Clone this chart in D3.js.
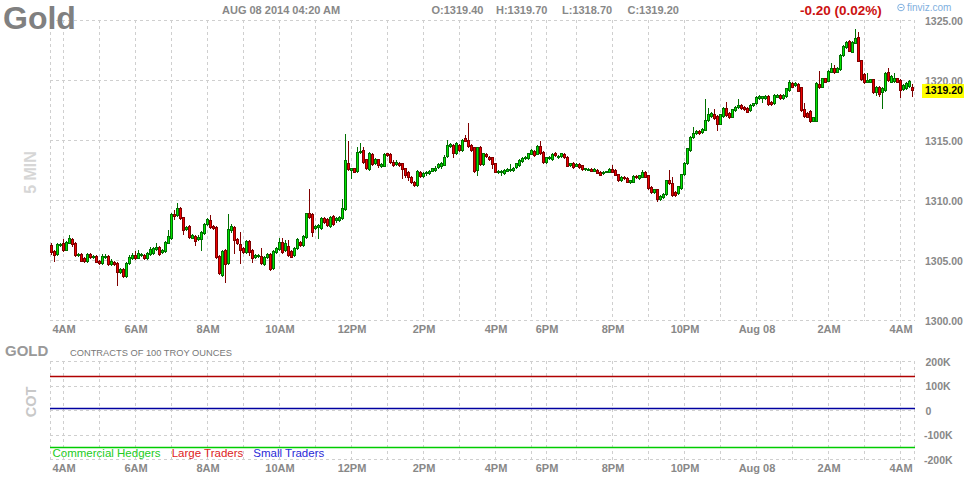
<!DOCTYPE html>
<html><head><meta charset="utf-8">
<script src="https://cdn.jsdelivr.net/npm/d3@7"></script>
<style>
body{margin:0;background:#fff}
svg{display:block}
text{font-family:Arial,"Liberation Sans",sans-serif}
</style>
</head><body>
<svg id="c" width="964" height="480"></svg>
<script>
const opens=[1306.25,1305.75,1305.47,1306.25,1306.39,1305.83,1306.44,1306.72,1306.44,1305.39,
1305.47,1305.19,1304.89,1305.47,1305.22,1305.33,1304.94,1304.75,1305.28,1305.33,
1304.67,1304.86,1304.78,1304.03,1304.22,1303.67,1304.72,1305.14,1305.42,1305.19,
1305.39,1305.42,1305.14,1305.47,1305.56,1305.89,1306.06,1305.64,1305.75,1306.44,
1306.81,1308.83,1308.75,1309.31,1308.56,1307.56,1307.83,1306.86,1307.03,1306.72,
1306.72,1307.28,1307.97,1308.33,1307.83,1307.78,1305.33,1303.75,1305.83,1304.78,
1307.5,1307.78,1306.72,1306.33,1305.97,1305.69,1306.58,1305.83,1305.25,1305.3,
1305.36,1304.67,1305.28,1305.47,1304.3,1305.69,1305.89,1306.53,1305.83,1306.19,
1305.75,1305.42,1305.97,1306.53,1306.25,1306.89,1308.89,1308.83,1307.64,1307.72,
1307.64,1308.47,1308.42,1307.83,1308.69,1308.31,1308.33,1308.53,1309.22,1313.11,
1312.5,1312.64,1312.42,1313.97,1314.17,1313.39,1312.56,1313.83,1313.06,1313.39,
1312.83,1312.86,1313.89,1313.83,1313.19,1312.97,1313.11,1313.06,1312.64,1312.36,
1311.94,1311.47,1311.28,1312.36,1312.0,1312.22,1312.25,1312.44,1312.5,1312.72,
1312.83,1312.92,1313.67,1314.53,1314.58,1313.89,1314.58,1314.19,1315.14,1315.0,
1314.58,1314.39,1312.5,1314.4,1313.0,1313.83,1313.61,1313.56,1313.06,1312.33,
1312.36,1312.28,1312.44,1312.5,1312.5,1312.72,1312.92,1313.28,1313.47,1313.47,
1313.83,1314.11,1313.83,1314.5,1314.03,1313.19,1313.47,1313.39,1313.94,1313.56,
1313.67,1313.81,1313.61,1312.92,1313.11,1312.83,1313.0,1312.92,1312.56,1312.53,
1312.58,1312.44,1312.5,1312.36,1312.22,1312.33,1312.36,1312.56,1312.5,1312.17,
1311.67,1311.94,1311.86,1311.5,1311.53,1312.0,1311.81,1311.94,1312.36,1312.08,
1311.11,1310.69,1310.89,1310.06,1310.22,1310.5,1311.67,1311.44,1310.69,1310.56,
1311.0,1312.17,1313.06,1314.17,1315.28,1315.56,1315.75,1315.69,1315.83,1316.67,
1317.0,1317.14,1317.0,1316.33,1317.0,1317.64,1317.22,1316.94,1317.5,1317.72,
1317.92,1317.78,1317.69,1317.5,1317.92,1318.06,1318.47,1318.5,1318.47,1318.67,
1318.19,1318.06,1318.61,1318.75,1318.47,1318.67,1319.17,1319.78,1319.58,1319.67,
1319.39,1317.56,1317.22,1317.44,1316.61,1316.61,1319.67,1319.44,1320.14,1319.94,
1320.69,1320.97,1320.69,1320.89,1322.08,1322.78,1323.25,1322.36,1323.11,1323.56,
1321.67,1320.5,1319.86,1319.86,1320.06,1319.03,1319.44,1319.0,1319.17,1320.69,
1319.86,1319.92,1320.14,1320.0,1319.22,1319.31,1319.5,1319.4];
const highs=[1306.44,1305.8,1306.4,1306.45,1306.72,1306.55,1307.08,1306.85,1306.5,1305.6,
1305.55,1305.25,1305.6,1305.6,1305.45,1305.4,1305.0,1305.5,1305.5,1305.4,
1305.05,1304.95,1304.85,1304.3,1304.3,1304.8,1305.4,1305.55,1305.75,1305.8,
1305.6,1305.5,1305.65,1306.11,1306.1,1306.39,1306.2,1305.95,1306.6,1307.5,
1308.95,1309.17,1309.72,1309.4,1308.6,1307.85,1307.9,1307.2,1307.1,1307.05,
1307.45,1308.05,1308.5,1308.75,1307.9,1307.85,1305.4,1305.85,1305.9,1308.83,
1308.0,1307.85,1306.8,1307.3,1306.05,1306.65,1306.65,1305.9,1305.5,1305.5,
1305.97,1305.36,1305.58,1305.55,1305.85,1306.05,1306.81,1306.81,1306.7,1306.67,
1305.8,1306.05,1306.85,1306.6,1307.1,1308.95,1310.92,1308.9,1307.9,1308.0,
1308.61,1308.6,1308.5,1308.65,1308.75,1308.55,1308.7,1310.06,1315.5,1314.94,
1312.7,1312.7,1314.44,1314.78,1314.4,1313.45,1314.0,1313.9,1313.5,1313.45,
1313.05,1313.9,1313.95,1313.9,1313.3,1313.3,1313.2,1313.1,1312.7,1312.45,
1312.0,1311.55,1312.5,1312.45,1312.3,1312.45,1312.5,1312.7,1312.8,1313.05,
1313.2,1313.75,1315.0,1314.75,1314.7,1314.8,1314.65,1315.1,1315.42,1316.39,
1314.65,1314.45,1314.45,1314.5,1313.95,1313.9,1313.7,1313.6,1313.1,1312.5,
1312.5,1312.55,1312.65,1313.0,1312.75,1313.1,1313.4,1313.6,1313.65,1313.95,
1314.25,1314.2,1314.55,1314.94,1314.1,1313.6,1313.7,1313.9,1314.0,1313.75,
1313.95,1313.9,1313.7,1313.1,1313.15,1313.05,1313.05,1312.95,1312.7,1312.65,
1312.65,1312.65,1312.55,1312.4,1312.4,1312.45,1312.65,1312.92,1312.55,1312.2,
1312.0,1312.0,1311.9,1311.7,1312.05,1312.05,1312.1,1312.5,1312.4,1312.1,
1311.15,1310.95,1310.95,1310.4,1310.55,1311.7,1312.5,1311.9,1310.75,1311.2,
1312.2,1313.15,1314.35,1315.3,1316.06,1315.8,1315.8,1316.0,1318.42,1317.64,
1317.3,1317.56,1317.05,1317.2,1317.75,1318.19,1317.3,1317.6,1317.8,1318.39,
1318.0,1317.85,1317.75,1318.0,1318.1,1318.65,1318.75,1318.7,1318.75,1318.75,
1318.25,1318.8,1318.8,1318.8,1318.8,1319.35,1320.0,1319.85,1319.85,1319.75,
1319.45,1318.06,1317.3,1317.5,1316.95,1319.8,1320.78,1320.2,1320.2,1320.85,
1321.44,1321.25,1321.05,1322.15,1322.9,1323.25,1323.3,1323.25,1324.22,1324.03,
1321.7,1320.55,1320.61,1320.1,1320.1,1319.5,1319.5,1319.4,1320.65,1320.97,
1320.4,1320.56,1320.2,1320.05,1319.65,1319.8,1320.0,1319.7];
const lows=[1305.5,1304.92,1305.4,1306.15,1305.75,1305.8,1306.4,1306.2,1305.35,1305.3,
1304.9,1304.85,1304.85,1305.15,1305.15,1304.8,1304.7,1304.7,1305.2,1304.6,
1304.6,1304.6,1302.92,1303.95,1303.6,1303.6,1304.65,1305.1,1305.1,1305.15,
1305.3,1305.05,1305.1,1305.4,1305.5,1305.85,1305.4,1305.55,1305.7,1306.4,
1306.75,1308.39,1308.7,1308.4,1307.2,1307.5,1306.85,1306.8,1306.25,1306.65,
1305.83,1307.2,1307.9,1307.7,1307.55,1305.2,1303.8,1303.67,1303.19,1304.7,
1307.35,1305.56,1306.3,1304.78,1305.6,1305.6,1305.42,1304.86,1305.2,1305.25,
1304.7,1304.6,1305.2,1304.15,1304.22,1305.6,1305.8,1305.6,1305.75,1305.35,
1305.22,1305.35,1305.9,1306.2,1306.2,1306.8,1308.5,1307.0,1307.55,1306.8,
1307.55,1308.1,1307.85,1307.75,1307.9,1308.2,1308.25,1308.45,1309.15,1312.5,
1311.8,1312.3,1312.35,1313.9,1313.1,1312.6,1312.5,1312.9,1313.0,1312.78,
1312.75,1312.8,1313.7,1313.1,1312.85,1312.9,1312.85,1311.81,1311.95,1311.67,
1311.4,1311.2,1311.2,1311.9,1311.9,1312.1,1312.2,1312.4,1312.45,1312.7,
1312.7,1312.9,1313.6,1314.45,1313.6,1313.8,1314.1,1314.1,1314.9,1314.4,
1314.1,1312.3,1312.08,1312.95,1312.9,1313.6,1313.3,1312.64,1312.3,1312.25,
1312.08,1312.2,1312.4,1312.45,1312.45,1312.65,1312.85,1313.2,1313.4,1313.4,
1313.8,1313.7,1313.8,1313.85,1313.1,1313.1,1313.4,1313.35,1313.7,1313.5,
1313.6,1313.5,1312.8,1312.85,1312.7,1312.8,1312.7,1312.5,1312.5,1312.5,
1312.4,1312.4,1312.25,1312.05,1312.15,1312.3,1312.3,1312.3,1312.05,1311.6,
1311.6,1311.75,1311.5,1311.45,1311.5,1311.85,1311.75,1311.9,1311.9,1310.9,
1310.6,1310.6,1309.95,1310.0,1310.15,1310.45,1311.35,1310.35,1310.35,1310.5,
1310.95,1312.1,1313.0,1314.1,1315.2,1315.5,1315.5,1315.6,1315.8,1316.6,
1316.95,1316.75,1315.83,1316.3,1316.95,1317.0,1316.85,1316.9,1317.45,1317.65,
1317.6,1317.5,1317.3,1317.45,1317.85,1318.0,1318.4,1318.2,1318.4,1317.95,
1317.95,1318.0,1318.55,1318.4,1318.4,1318.6,1319.1,1319.4,1319.5,1319.05,
1317.45,1316.95,1316.9,1316.5,1316.55,1316.55,1319.35,1319.4,1319.8,1319.9,
1320.65,1320.6,1320.65,1320.85,1322.0,1322.7,1322.4,1322.3,1323.05,1321.55,
1320.0,1319.75,1319.8,1319.8,1318.95,1318.75,1318.67,1317.7,1319.1,1319.9,
1319.8,1319.85,1319.8,1318.56,1319.15,1319.25,1319.4,1318.7];
const closes=[1305.69,1305.42,1306.31,1306.33,1305.83,1306.47,1306.81,1306.31,1305.42,1305.5,
1304.94,1304.89,1305.47,1305.22,1305.33,1304.86,1304.75,1305.36,1305.36,1304.67,
1304.92,1304.67,1304.03,1304.22,1303.67,1304.72,1305.28,1305.42,1305.19,1305.61,
1305.47,1305.14,1305.56,1305.89,1305.97,1306.11,1305.47,1305.83,1306.53,1307.0,
1308.83,1308.67,1309.31,1308.47,1307.5,1307.72,1306.94,1307.08,1306.61,1306.94,
1307.36,1307.97,1308.39,1307.78,1307.64,1305.28,1303.89,1305.75,1304.67,1307.56,
1307.8,1306.67,1306.39,1305.83,1305.69,1306.58,1305.69,1305.14,1305.42,1305.42,
1304.78,1305.28,1305.5,1304.22,1305.78,1305.97,1306.53,1305.69,1306.39,1305.42,
1305.28,1305.97,1306.72,1306.25,1307.0,1308.89,1308.61,1307.36,1307.83,1307.89,
1308.47,1308.19,1307.92,1308.56,1307.97,1308.47,1308.61,1309.31,1313.33,1312.56,
1312.64,1312.36,1314.03,1314.11,1313.19,1312.69,1313.89,1312.97,1313.39,1312.92,
1312.97,1313.83,1313.75,1313.19,1312.92,1313.19,1312.92,1312.56,1312.08,1311.89,
1311.47,1311.25,1312.42,1312.0,1312.22,1312.36,1312.44,1312.64,1312.69,1312.97,
1313.11,1313.61,1314.58,1314.64,1313.89,1314.72,1314.17,1315.03,1314.94,1314.5,
1314.17,1312.44,1314.39,1313.0,1313.89,1313.67,1313.39,1312.97,1312.36,1312.44,
1312.44,1312.5,1312.58,1312.58,1312.69,1313.06,1313.33,1313.53,1313.61,1313.89,
1314.17,1313.75,1314.5,1313.89,1313.19,1313.56,1313.61,1313.83,1313.75,1313.67,
1313.89,1313.56,1312.83,1313.06,1312.72,1313.0,1312.72,1312.56,1312.64,1312.61,
1312.44,1312.58,1312.28,1312.08,1312.36,1312.42,1312.58,1312.36,1312.08,1311.67,
1311.94,1311.81,1311.53,1311.67,1312.0,1311.89,1312.08,1312.36,1311.94,1310.97,
1310.69,1310.92,1310.06,1310.33,1310.5,1311.67,1311.39,1310.42,1310.42,1311.17,
1312.14,1313.08,1314.31,1315.28,1315.61,1315.75,1315.56,1315.92,1316.67,1317.14,
1317.22,1316.81,1316.33,1317.14,1317.69,1317.08,1316.89,1317.56,1317.72,1317.92,
1317.64,1317.56,1317.36,1317.92,1318.06,1318.61,1318.67,1318.64,1318.69,1318.0,
1318.0,1318.75,1318.75,1318.47,1318.75,1319.31,1319.86,1319.44,1319.78,1319.11,
1317.5,1317.0,1316.94,1316.61,1316.89,1319.72,1319.39,1320.14,1319.86,1320.78,
1320.97,1320.69,1320.97,1322.08,1322.83,1323.19,1322.44,1323.19,1323.47,1321.61,
1320.06,1319.81,1320.0,1320.06,1319.03,1319.44,1318.83,1319.35,1320.6,1320.0,
1320.33,1320.17,1319.86,1319.17,1319.58,1319.72,1319.9,1319.2];

// hourly grid bars (bar index of each hour) and axis labels
const gridBars=[4,16,28,40,52,64,76,88,100,112,124,136,148,160,165,175,187,199,211,223,235,247,259,271,283];
const tickBars=[4,28,52,76,100,124,148,165,187,211,235,259,283];
const tickLabels=["4AM","6AM","8AM","10AM","12PM","2PM","4PM","6PM","8PM","10PM","Aug 08","2AM","4AM"];
const priceTicks=[1300,1305,1310,1315,1320,1325];
const lastPrice=1319.20;
const cotTicks=[-200000,-100000,0,100000,200000];
const cotTickLabels=["-200K","-100K","0","100K","200K"];
const cotSeries=["Commercial Hedgers","Large Traders","Small Traders"];
const cotValues=[-150000,140000,10000];
const cotColors=["#00cc00","#b00000","#0000a0"];
const legendColors=["#22cc22","#dd2222","#2a2ad8"];
const headerTitle="Gold";
const headerDate="AUG 08 2014 04:20 AM";
const headerOHLC=["O:1319.40","H:1319.70","L:1318.70","C:1319.20"];
const headerChange="-0.20 (0.02%)";

const svg=d3.select("#c");
const N=opens.length;
const L=50, R=914.5;
const x=d3.scaleLinear().domain([-0.5,N-0.5]).range([50,50+3*N]);
const y=d3.scaleLinear().domain([1300,1325]).range([320,20]);
const yc=d3.scaleLinear().domain([-200000,200000]).range([459,361]);
const grid="#cfcfcf";

function panelGrid(ys, top, bottom){
  const g=svg.append("g").attr("stroke",grid).attr("stroke-dasharray","3,3").attr("shape-rendering","crispEdges");
  ys.forEach(v=>g.append("line").attr("x1",L).attr("x2",R+0.5).attr("y1",Math.round(v)+0.5).attr("y2",Math.round(v)+0.5));
  [L+0.5, ...gridBars.map(b=>x(b)), R].forEach(xx=>g.append("line").attr("x1",xx).attr("x2",xx).attr("y1",top).attr("y2",bottom));
}
panelGrid(priceTicks.map(y),20,320.5);
panelGrid(cotTicks.map(yc),361,459.5);

// candles
const idx=d3.range(N);
const up=i=>closes[i]>=opens[i];
const cg=svg.append("g").attr("shape-rendering","crispEdges");
cg.selectAll("line.w").data(idx).join("line")
  .attr("x1",i=>x(i)).attr("x2",i=>x(i))
  .attr("y1",i=>Math.round(y(highs[i]))).attr("y2",i=>Math.round(y(lows[i]))+1)
  .attr("stroke",i=>up(i)?"#007000":"#800000");
cg.selectAll("rect").data(idx).join("rect")
  .attr("x",i=>x(i)-1)
  .attr("width",2)
  .attr("y",i=>Math.round(y(Math.max(opens[i],closes[i])))+0.5)
  .attr("height",i=>Math.max(1,Math.round(y(Math.min(opens[i],closes[i])))-Math.round(y(Math.max(opens[i],closes[i])))))
  .attr("fill",i=>up(i)?"#00e400":"#ee0000")
  .attr("stroke",i=>up(i)?"#007000":"#800000")
  .attr("stroke-width",1);

// axes
function styleAxis(g,size,color){
  g.select(".domain").remove();
  g.selectAll("line").remove();
  g.selectAll("text").attr("font-family","Arial, Liberation Sans, sans-serif").attr("font-size",size).attr("font-weight","bold").attr("fill",color);
}
const xa=d3.axisBottom(x).tickValues(tickBars).tickFormat((d,i)=>tickLabels[i]).tickSize(0).tickPadding(5.5);
svg.append("g").attr("transform","translate(0,320)").call(xa).call(g=>styleAxis(g,11,"#888"));
svg.append("g").attr("transform","translate(0,459)").call(xa).call(g=>styleAxis(g,11,"#888"));

const ya=d3.axisRight(y).tickValues(priceTicks).tickFormat(d3.format(".2f")).tickSize(0).tickPadding(0);
svg.append("g").attr("transform","translate(925,0)").call(ya).call(g=>styleAxis(g,"10.5px","#888")).selectAll("text").attr("dy","0.4em");
const yca=d3.axisRight(yc).tickValues(cotTicks).tickFormat((d,i)=>cotTickLabels[i]).tickSize(0).tickPadding(0);
svg.append("g").attr("transform","translate(924,0)").call(yca).call(g=>styleAxis(g,"10.5px","#888")).selectAll("text").attr("dy","0.4em").attr("x",d=>d<0?0:1.5);

// last price marker
const lp=y(lastPrice);
svg.append("rect").attr("x",922).attr("y",Math.round(lp)-6).attr("width",42).attr("height",14).attr("fill","#ffff00");
svg.append("text").attr("x",925).attr("y",lp+4).attr("font-size","10.5px").attr("font-weight","bold").attr("fill","#000").text(d3.format(".2f")(lastPrice));

// COT lines
svg.append("g").selectAll("line").data(cotValues).join("line")
  .attr("x1",L).attr("x2",R+0.5)
  .attr("y1",d=>Math.round(yc(d))+0.5).attr("y2",d=>Math.round(yc(d))+0.5)
  .attr("stroke",(d,i)=>cotColors[i]).attr("stroke-width",1.5);

// legend
const legendX=[52.5,171.7,253.3];
cotSeries.forEach((s,i)=>{
  svg.append("text").attr("x",legendX[i]).attr("y",456.5).attr("font-size","11.5px").attr("fill",legendColors[i]).text(s);
});

// header
svg.append("text").attr("x",3).attr("y",28.5).attr("font-size","32px").attr("font-weight","bold").attr("fill","#808080").text(headerTitle);
svg.append("text").attr("x",222).attr("y",14).attr("font-size","11px").attr("font-weight","bold").attr("fill","#888").text(headerDate);
const ohlcX=[431.5,496,562,627.5];
headerOHLC.forEach((s,i)=>svg.append("text").attr("x",ohlcX[i]).attr("y",14).attr("font-size","11px").attr("font-weight","bold").attr("fill","#888").text(s));
svg.append("text").attr("x",800).attr("y",15).attr("font-size","13.5px").attr("font-weight","bold").attr("fill","#cc1111").text(headerChange);
svg.append("circle").attr("cx",901).attr("cy",7.5).attr("r",3.3).attr("fill","none").attr("stroke","#7fb0e0").attr("stroke-width",1);
svg.append("line").attr("x1",899.5).attr("x2",902.5).attr("y1",7.5).attr("y2",7.5).attr("stroke","#7fb0e0");
svg.append("text").attr("x",907).attr("y",11).attr("font-size","10px").attr("fill","#7fb0e0").text("finviz.com");

// lower panel labels
svg.append("text").attr("x",5).attr("y",356).attr("font-size","15px").attr("font-weight","bold").attr("fill","#999").text("GOLD");
svg.append("text").attr("x",70).attr("y",356).attr("font-size","9.3px").attr("fill","#777").text("CONTRACTS OF 100 TROY OUNCES");

// rotated panel titles
svg.append("text").attr("transform","translate(35.5,172.5) rotate(-90)").attr("text-anchor","middle").attr("font-size","16px").attr("font-weight","bold").attr("fill","#d6d6d6").text("5 MIN");
svg.append("text").attr("transform","translate(35.5,402) rotate(-90)").attr("text-anchor","middle").attr("font-size","14.5px").attr("font-weight","bold").attr("fill","#c8c8c8").text("COT");
</script>
</body></html>
